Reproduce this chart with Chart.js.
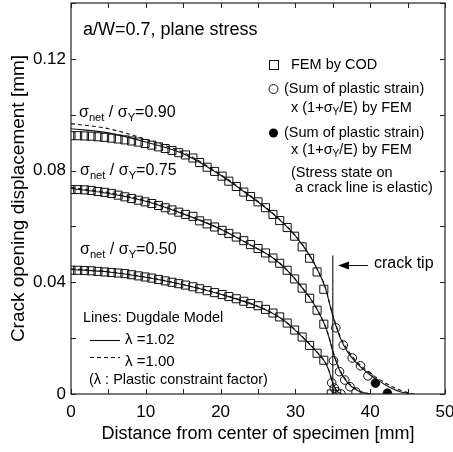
<!DOCTYPE html>
<html>
<head>
<meta charset="utf-8">
<script src="https://cdn.jsdelivr.net/npm/chart.js@4.4.0/dist/chart.umd.min.js"></script>
<style>
  html, body { margin: 0; padding: 0; background: #fff; }
  #wrap { width: 453px; height: 452px; }
</style>
</head>
<body>
<div id="wrap"><canvas id="codChart" width="453" height="452"></canvas></div>
<script>
// FEM nodes on the crack line [mm]
const nodeX = [0, 0.9, 1.8, 2.7, 3.6, 4.5, 5.4, 6.3, 7.2, 8.1, 9.0, 9.9, 10.8, 11.7, 12.6, 13.5, 14.4, 15.3,
  16.3, 17.2, 18.2, 19.2, 20.2, 21.1, 22.1, 23.1, 24.0, 25.0, 26.0, 27.0, 27.9, 28.9, 29.9, 30.9, 31.9, 32.9, 33.8, 34.8];

// COD from FEM [mm], one value per node
const femCod090 = [0.0925, 0.0925, 0.0924, 0.0923, 0.0921, 0.0919, 0.0916, 0.0913, 0.0910, 0.0906, 0.0902, 0.0897,
  0.0891, 0.0885, 0.0879, 0.0872, 0.0864, 0.0856, 0.0845, 0.0829, 0.0812, 0.0797, 0.0780, 0.0762, 0.0743, 0.0723,
  0.0707, 0.0688, 0.0667, 0.0643, 0.0621, 0.0596, 0.0565, 0.0527, 0.0486, 0.0437, 0.0375];
const femCod075 = [0.0732, 0.0732, 0.0731, 0.0729, 0.0725, 0.0722, 0.0718, 0.0712, 0.0706, 0.0700, 0.0694, 0.0688,
  0.0682, 0.0675, 0.0667, 0.0659, 0.0651, 0.0643, 0.0636, 0.0620, 0.0609, 0.0598, 0.0586, 0.0575, 0.0562, 0.0549,
  0.0535, 0.0521, 0.0505, 0.0487, 0.0468, 0.0443, 0.0412, 0.0379, 0.0343, 0.0300, 0.0250];
const femCod050 = [0.0443, 0.0443, 0.0442, 0.0441, 0.0439, 0.0437, 0.0435, 0.0433, 0.0431, 0.0427, 0.0423, 0.0419,
  0.0415, 0.0410, 0.0405, 0.0400, 0.0395, 0.0390, 0.0384, 0.0377, 0.0370, 0.0363, 0.0356, 0.0349, 0.0341, 0.0332,
  0.0324, 0.0316, 0.0303, 0.0290, 0.0276, 0.0254, 0.0229, 0.0204, 0.0174, 0.0146, 0.0121, 0.0000];

// sum of plastic strain x (1+sY/E), plastic crack line
const plX090 = [35.4, 36.4, 37.6, 38.7, 39.7];
const plY090 = [0.0237, 0.0175, 0.0129, 0.0101, 0.0065];
const plX075 = [35.1, 35.9, 36.6, 37.3, 38.1];
const plY075 = [0.0119, 0.0080, 0.0050, 0.0026, 0.0007];
const plX050 = [34.85, 35.2, 35.5, 36.1];
const plY050 = [0.0040, 0.0021, 0.0008, 0.0000];
// same quantity where the crack line stays elastic
const elX = [40.7, 42.3];
const elY = [0.0039, 0.0003];

// Dugdale model, lambda = 1.02 (solid) and 1.00 (dashed)
const dugX102_090 = [0, 5, 10, 15, 20, 24, 27, 30, 32, 33, 34, 35, 36, 37, 38, 39, 40, 41, 42, 43, 44, 45.4];
const dugY102_090 = [0.0950, 0.0935, 0.0902, 0.0860, 0.0783, 0.0707, 0.0645, 0.0566, 0.0492, 0.0442, 0.0380, 0.0280,
  0.0200, 0.0150, 0.0116, 0.0090, 0.0068, 0.0050, 0.0033, 0.0019, 0.0008, 0];
const dugX100_090 = [0, 5, 10, 15, 20, 24, 27, 30, 32, 33, 34, 35, 36, 37, 38, 39, 40, 41, 42, 43, 44, 45, 45.8];
const dugY100_090 = [0.0968, 0.0950, 0.0912, 0.0865, 0.0786, 0.0710, 0.0647, 0.0567, 0.0492, 0.0442, 0.0381, 0.0283,
  0.0206, 0.0157, 0.0122, 0.0096, 0.0074, 0.0056, 0.0040, 0.0026, 0.0014, 0.0005, 0];
const dugX102_075 = [0, 5, 10, 15, 20, 24, 27, 29, 31, 32, 33, 34, 34.5, 35, 35.5, 36, 37, 38, 39, 40.1];
const dugY102_075 = [0.0736, 0.0718, 0.0690, 0.0645, 0.0590, 0.0533, 0.0487, 0.0440, 0.0377, 0.0342, 0.0298, 0.0242,
  0.0202, 0.0152, 0.0112, 0.0080, 0.0040, 0.0017, 0.0005, 0];
const dugX100_075 = [0, 5, 10, 15, 20, 24, 27, 29, 31, 32, 33, 34, 34.5, 35, 35.5, 36, 37, 38, 39, 40.4];
const dugY100_075 = [0.0740, 0.0721, 0.0692, 0.0646, 0.0591, 0.0534, 0.0488, 0.0441, 0.0378, 0.0343, 0.0299, 0.0243,
  0.0204, 0.0155, 0.0115, 0.0083, 0.0043, 0.0019, 0.0006, 0];
const dugX102_050 = [0, 5, 10, 15, 20, 25, 28, 30, 32, 33, 34, 34.5, 35, 35.5, 36.1];
const dugY102_050 = [0.0446, 0.0437, 0.0418, 0.0391, 0.0357, 0.0313, 0.0272, 0.0228, 0.0175, 0.0146, 0.0112, 0.0082,
  0.0038, 0.0012, 0];
const dugX100_050 = [0, 5, 10, 15, 20, 25, 28, 30, 32, 33, 34, 34.5, 35, 35.5, 36.2];
const dugY100_050 = [0.0448, 0.0438, 0.0419, 0.0392, 0.0358, 0.0314, 0.0273, 0.0229, 0.0176, 0.0147, 0.0113, 0.0083,
  0.0040, 0.0013, 0];

// crack tip marker
const crackTipX = [35, 35];
const crackTipY = [0, 0.0496];

const xTickLabels = [0, 10, 20, 30, 40, 50];
const yTickLabels = [0, 0.04, 0.08, 0.12];
const xMinorStep = 5;
const yMinorStep = 0.02;

const FONT = '"Liberation Sans", Arial, sans-serif';
const INK = '#111';

function pts(xs, ys) {
  return xs.map((x, i) => ({ x: x, y: ys[i] }));
}

function markerSet(data, style, fill, radius) {
  return {
    data: data, showLine: false, pointStyle: style, pointRadius: radius,
    borderColor: INK, backgroundColor: fill, pointBorderWidth: 1
  };
}

function curve(data, dash) {
  return {
    data: data, showLine: true, pointRadius: 0, borderColor: INK, borderWidth: 1.1,
    borderDash: dash, cubicInterpolationMode: 'monotone', fill: false
  };
}

// text with subscripts; parts = [[text, isSub], ...]
function richText(ctx, parts, x, y, size) {
  let cx = x;
  parts.forEach(([t, sub]) => {
    const fs = sub ? size * 0.7 : size;
    ctx.font = fs + 'px ' + FONT;
    ctx.fillText(t, cx, sub ? y + size * 0.3 : y);
    cx += ctx.measureText(t).width;
  });
}

const decorations = {
  id: 'decorations',
  afterDatasetsDraw(chart) {
    const { ctx, chartArea: a, scales: { x, y } } = chart;
    ctx.save();
    ctx.strokeStyle = '#222';
    ctx.lineWidth = 1.2;
    ctx.strokeRect(a.left, a.top, a.right - a.left, a.bottom - a.top);

    // inward ticks on all four sides
    ctx.lineWidth = 1;
    ctx.beginPath();
    for (let v = 0; v <= 50; v += xMinorStep) {
      const px = Math.round(x.getPixelForValue(v)) + 0.5;
      ctx.moveTo(px, a.bottom); ctx.lineTo(px, a.bottom - 5);
      ctx.moveTo(px, a.top); ctx.lineTo(px, a.top + 5);
    }
    for (let k = 0; k <= 7; k++) {
      const py = Math.round(y.getPixelForValue(k * yMinorStep)) + 0.5;
      ctx.moveTo(a.left, py); ctx.lineTo(a.left + 5, py);
      ctx.moveTo(a.right, py); ctx.lineTo(a.right - 5, py);
    }
    ctx.stroke();

    ctx.fillStyle = '#000';
    ctx.textBaseline = 'middle';
    ctx.textAlign = 'left';
    ctx.font = '18px ' + FONT;
    ctx.fillText('a/W=0.7, plane stress', 83, 30);

    richText(ctx, [['σ'], ['net', 1], [' / σ'], ['Y', 1], ['=0.90']], 79, 113, 16);
    richText(ctx, [['σ'], ['net', 1], [' / σ'], ['Y', 1], ['=0.75']], 80, 171, 16);
    richText(ctx, [['σ'], ['net', 1], [' / σ'], ['Y', 1], ['=0.50']], 80, 250, 16);

    // symbol legend
    const ls = 14.5;
    ctx.lineWidth = 1;
    ctx.strokeStyle = INK;
    ctx.strokeRect(269.5, 60.5, 9, 9);
    ctx.font = ls + 'px ' + FONT;
    ctx.fillText('FEM by COD', 291, 65);
    ctx.beginPath(); ctx.arc(273.5, 89, 4.5, 0, Math.PI * 2); ctx.stroke();
    ctx.fillText('(Sum of plastic strain)', 284, 89);
    richText(ctx, [['x (1+σ'], ['Y', 1], ['/E) by FEM']], 291, 108, ls);
    ctx.beginPath(); ctx.arc(273.5, 133, 4.5, 0, Math.PI * 2); ctx.fillStyle = '#000'; ctx.fill();
    ctx.font = ls + 'px ' + FONT;
    ctx.fillText('(Sum of plastic strain)', 284, 133);
    richText(ctx, [['x (1+σ'], ['Y', 1], ['/E) by FEM']], 291, 150, ls);
    ctx.font = ls + 'px ' + FONT;
    ctx.fillText('(Stress state on', 291, 173);
    ctx.fillText('a crack line is elastic)', 295, 188);

    // crack tip arrow
    ctx.beginPath(); ctx.moveTo(346, 265.5); ctx.lineTo(368, 265.5); ctx.stroke();
    ctx.beginPath(); ctx.moveTo(338, 265.5); ctx.lineTo(349, 261.5); ctx.lineTo(349, 269.5); ctx.closePath(); ctx.fill();
    ctx.font = '16px ' + FONT;
    ctx.fillText('crack tip', 374, 264);

    // line legend
    ctx.font = ls + 'px ' + FONT;
    ctx.fillText('Lines: Dugdale Model', 83, 318);
    ctx.lineWidth = 1.1;
    ctx.beginPath(); ctx.moveTo(90, 340.5); ctx.lineTo(120, 340.5); ctx.stroke();
    ctx.setLineDash([4, 3]);
    ctx.beginPath(); ctx.moveTo(90, 357.5); ctx.lineTo(120, 357.5); ctx.stroke();
    ctx.setLineDash([]);
    ctx.font = '15px ' + FONT;
    ctx.fillText('λ =1.02', 125, 340);
    ctx.fillText('λ =1.00', 125, 362);
    ctx.font = ls + 'px ' + FONT;
    ctx.fillText('(λ : Plastic constraint factor)', 89, 380);
    ctx.restore();
  }
};

const datasets = [
  markerSet(pts(nodeX, femCod090), 'rect', 'rgba(0,0,0,0)', 5.7),
  markerSet(pts(nodeX, femCod075), 'rect', 'rgba(0,0,0,0)', 5.7),
  markerSet(pts(nodeX, femCod050), 'rect', 'rgba(0,0,0,0)', 5.7),
  markerSet(pts(plX090, plY090), 'circle', 'rgba(0,0,0,0)', 4.3),
  markerSet(pts(plX075, plY075), 'circle', 'rgba(0,0,0,0)', 4.3),
  markerSet(pts(plX050, plY050), 'circle', 'rgba(0,0,0,0)', 4.3),
  markerSet(pts(elX, elY), 'circle', '#000', 4.3),
  curve(pts(dugX102_090, dugY102_090), []),
  curve(pts(dugX100_090, dugY100_090), [4, 3]),
  curve(pts(dugX102_075, dugY102_075), []),
  curve(pts(dugX100_075, dugY100_075), [4, 3]),
  curve(pts(dugX102_050, dugY102_050), []),
  curve(pts(dugX100_050, dugY100_050), [4, 3]),
  curve(pts(crackTipX, crackTipY), [])
];

new Chart(document.getElementById('codChart'), {
  type: 'scatter',
  data: { datasets: datasets },
  options: {
    responsive: false,
    animation: false,
    layout: { autoPadding: false, padding: { top: 3, right: 8, left: 0, bottom: 0 } },
    plugins: { legend: { display: false }, tooltip: { enabled: false } },
    scales: {
      x: {
        type: 'linear', min: 0, max: 50,
        afterBuildTicks: s => { s.ticks = xTickLabels.map(v => ({ value: v })); },
        afterFit: s => { s.height = 58; s.paddingLeft = 0; s.paddingRight = 0; },
        grid: { display: false, drawTicks: false },
        border: { display: false },
        ticks: { color: '#000', font: { family: FONT, size: 17 }, padding: 8, maxRotation: 0 },
        title: { display: true, text: 'Distance from center of specimen [mm]', color: '#000',
          font: { family: FONT, size: 18 }, padding: { top: 0, bottom: 7 } }
      },
      y: {
        type: 'linear', min: 0, max: 0.14,
        afterBuildTicks: s => { s.ticks = yTickLabels.map(v => ({ value: v })); },
        afterFit: s => { s.width = 71; s.paddingTop = 0; s.paddingBottom = 0; },
        grid: { display: false, drawTicks: false },
        border: { display: false },
        ticks: { color: '#000', font: { family: FONT, size: 17 }, padding: 5,
          callback: v => (v === 0 ? '0' : v.toFixed(2)) },
        title: { display: true, text: 'Crack opening displacement [mm]', color: '#000',
          font: { family: FONT, size: 19 }, padding: { top: 7, bottom: 0 } }
      }
    }
  },
  plugins: [decorations]
});
</script>
</body>
</html>
